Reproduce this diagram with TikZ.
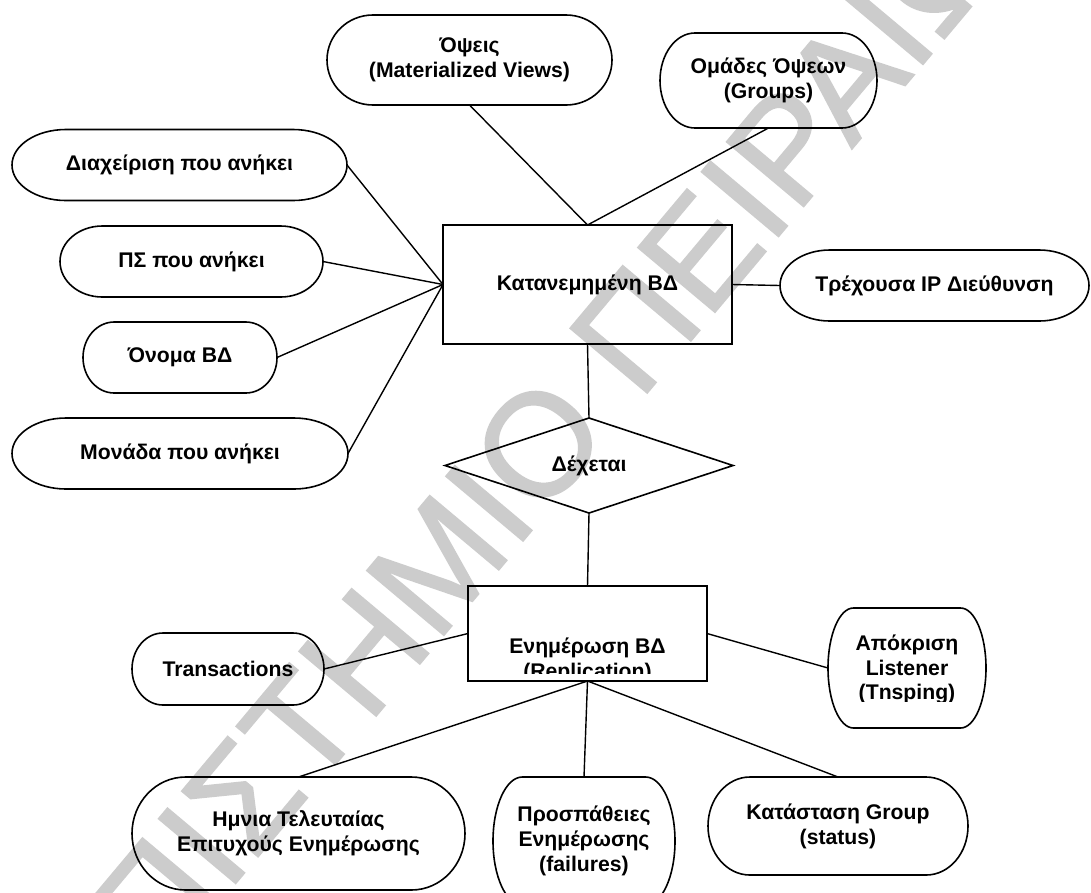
\documentclass[tikz,border=0pt]{standalone}
\usepackage{fontspec}
\setmainfont{Liberation Sans}
\newfontfamily\wmfont[FakeBold=1.2]{Liberation Sans}
\usetikzlibrary{shapes.geometric,calc}

% Terminator outline (flat top/bottom, elliptic ends) around a named node
\newcommand\termoutline[1]{%
  \draw[shapeline] let \p1=(#1.south west), \p2=(#1.north east),
    \n1={0.161*(\x2-\x1)}, \n2={0.5*(\y2-\y1)} in
    (\x1+\n1,\y2) -- (\x2-\n1,\y2)
    arc[start angle=90,end angle=-90,x radius=\n1,y radius=\n2]
    -- (\x1+\n1,\y1)
    arc[start angle=270,end angle=90,x radius=\n1,y radius=\n2] -- cycle;}

\begin{document}
\begin{tikzpicture}[x=1pt,y=-1pt,
  font=\fontsize{21.2}{25}\selectfont\bfseries,
  shapeline/.style={line width=1.6pt},
  conn/.style={line width=1.4pt},
  attr/.style={inner sep=0pt, outer sep=0pt, align=center},
  entity/.style={draw, shapeline, inner sep=0pt, outer sep=0pt, align=center},
  relation/.style={draw, shapeline, diamond, inner sep=0pt, outer sep=0pt},
  wmtext/.style={text=black!20, font=\wmfont\fontsize{146}{146}\selectfont, rotate=50, inner sep=0pt, outer sep=0pt}]

\fill[white] (0,0) rectangle (1091,892);
\path[use as bounding box] (0,0) rectangle (1091,892);

% diagonal watermark behind the diagram
\node[wmtext, anchor=base east] (wmleft) at (540.5,520) {ΠΑΝΕΠΙΣΤΗΜΙ};
\node[wmtext, anchor=base west] (wmright) at (540.5,520) {Ο ΠΕΙΡΑΙΩΣ};

% attributes of the distributed database
\node[attr, minimum width=285, minimum height=90] (views) at (469.5,60) {Όψεις\\(Materialized Views)};
\termoutline{views}
\node[attr, minimum width=217, minimum height=95] (groups) at (768.5,80.5) {Ομάδες Όψεων\\(Groups)};
\termoutline{groups}
\node[attr, minimum width=335, minimum height=71] (mgmt) at (179.5,165) {Διαχείριση που ανήκει};
\termoutline{mgmt}
\node[attr, minimum width=263, minimum height=71] (ps) at (191.5,261.5) {ΠΣ που ανήκει};
\termoutline{ps}
\node[attr, minimum width=194, minimum height=71] (dbname) at (180,357.5) {Όνομα ΒΔ};
\termoutline{dbname}
\node[attr, minimum width=336, minimum height=71] (unit) at (180,453.5) {Μονάδα που ανήκει};
\termoutline{unit}
\node[attr, minimum width=309, minimum height=71] (ip) at (934.5,285.5) {Τρέχουσα IP Διεύθυνση};
\termoutline{ip}

% entities and relationship
\node[entity, minimum width=289, minimum height=119] (ent) at (587.5,284.5) {Κατανεμημένη ΒΔ};
\node[relation, minimum width=288, minimum height=95] (rel) at (589,465.5) {Δέχεται};
\node[entity, minimum width=239, minimum height=95] (rep) at (587.5,633.5) {};
\begin{scope}
  \clip (468,586) rectangle (707,673);
  \node[attr, anchor=base] (repa) at (587.5,653) {Ενημέρωση ΒΔ};
  \node[attr, anchor=base] (repb) at (587.5,678) {(Replication)};
\end{scope}

% attributes of the replication
\node[attr, minimum width=192, minimum height=72] (trans) at (228,669) {Transactions};
\termoutline{trans}
\node[attr, minimum width=158, minimum height=120] (lsnr) at (907,668) {};
\termoutline{lsnr}
\begin{scope}
  \clip (828,600) rectangle (986,701);
  \node[attr, anchor=base] (lsnra) at (907,650.5) {Απόκριση};
  \node[attr, anchor=base] (lsnrb) at (907,675) {Listener};
  \node[attr, anchor=base] (lsnrc) at (907,699.5) {(Tnsping)};
\end{scope}
\node[attr, minimum width=333, minimum height=113] (lastupd) at (298.5,833.5) {Ημνια Τελευταίας\\Επιτυχούς Ενημέρωσης};
\termoutline{lastupd}
\node[attr, minimum width=182, minimum height=128] (tries) at (584,841) {Προσπάθειες\\Ενημέρωσης\\(failures)};
\termoutline{tries}
\node[attr, minimum width=260, minimum height=98] (status) at (838,826) {Κατάσταση Group\\(status)};
\termoutline{status}

% connectors
\draw[conn] (views.south) -- (ent.north);
\draw[conn] (groups.south) -- (ent.north);
\draw[conn] (mgmt.east) -- (ent.west);
\draw[conn] (ps.east) -- (ent.west);
\draw[conn] (dbname.east) -- (ent.west);
\draw[conn] (unit.east) -- (ent.west);
\draw[conn] (ent.east) -- (ip.west);
\draw[conn] (ent.south) -- (rel.north);
\draw[conn] (rel.south) -- (rep.north);
\draw[conn] (trans.east) -- (rep.west);
\draw[conn] (rep.east) -- (lsnr.west);
\draw[conn] (rep.south) -- (lastupd.north);
\draw[conn] (rep.south) -- (tries.north);
\draw[conn] (rep.south) -- (status.north);
\end{tikzpicture}
\end{document}
